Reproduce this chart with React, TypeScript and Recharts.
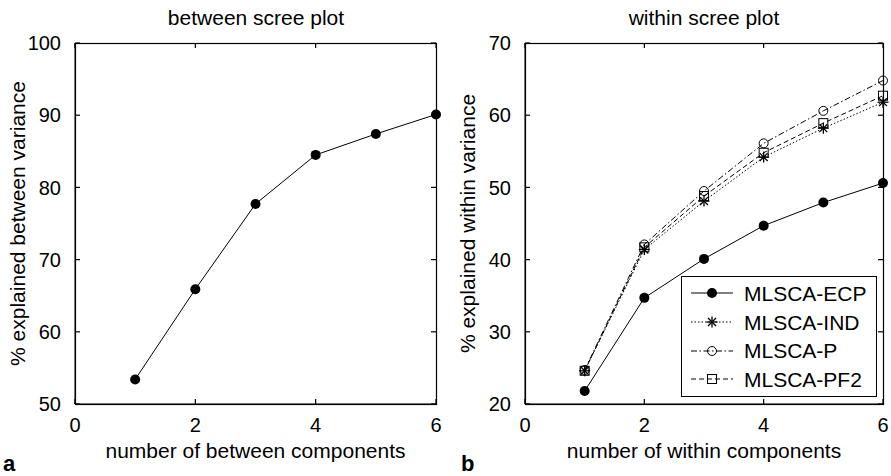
import { LineChart, Line, XAxis, YAxis } from "recharts"

// component numbers
const components = [1, 2, 3, 4, 5, 6]

// panel a: between scree
const betweenVar = [53.4, 65.9, 77.7, 84.5, 87.4, 90.1]

// panel b: within scree, one list per model
const ecp = [21.8, 34.7, 40.1, 44.7, 47.9, 50.6]
const ind = [24.6, 41.4, 48.1, 54.2, 58.2, 61.8]
const pModel = [24.7, 42.1, 49.5, 56.1, 60.6, 64.8]
const pf2 = [24.6, 41.7, 48.8, 54.8, 58.9, 62.7]

const xTicks = [0, 2, 4, 6]
const betweenTicks = [50, 60, 70, 80, 90, 100]
const withinTicks = [20, 30, 40, 50, 60, 70]

const betweenData = components.map((c, i) => ({ x: c, v: betweenVar[i] }))
const withinData = components.map((c, i) => ({
  x: c,
  ecp: ecp[i],
  ind: ind[i],
  p: pModel[i],
  pf2: pf2[i],
}))

const FONT = "'Liberation Sans', Arial, Helvetica, sans-serif"
const labelStyle = { fill: "#000", fontSize: 21, fontFamily: FONT }

const PLOT_TOP = 43
const PLOT_H = 361
const TICK_PX = 5
const TICK_GAP = 14

type Marker = "dot" | "star" | "circle" | "square"

const drawMarker = (kind: Marker, cx: number, cy: number, key?: string) => {
  if (kind === "dot") return <circle key={key} cx={cx} cy={cy} r={5} fill="#000" />
  if (kind === "circle")
    return <circle key={key} cx={cx} cy={cy} r={4.5} fill="none" stroke="#000" strokeWidth={1} />
  if (kind === "square")
    return (
      <rect key={key} x={cx - 4.5} y={cy - 4.5} width={9} height={9} fill="none" stroke="#000" strokeWidth={1} />
    )
  const s = 5.5
  const d = s * 0.72
  return (
    <g key={key} stroke="#000" strokeWidth={1.3}>
      <line x1={cx - s} y1={cy} x2={cx + s} y2={cy} />
      <line x1={cx} y1={cy - s} x2={cx} y2={cy + s} />
      <line x1={cx - d} y1={cy - d} x2={cx + d} y2={cy + d} />
      <line x1={cx - d} y1={cy + d} x2={cx + d} y2={cy - d} />
    </g>
  )
}

const markerDot = (kind: Marker) => (props: any) =>
  drawMarker(kind, props.cx, props.cy, `${kind}-${props.index}`)

const series = [
  { key: "ecp", name: "MLSCA-ECP", marker: "dot" as Marker, dash: undefined },
  { key: "ind", name: "MLSCA-IND", marker: "star" as Marker, dash: "1.5 2" },
  { key: "p", name: "MLSCA-P", marker: "circle" as Marker, dash: "6 2.5 1.5 2.5" },
  { key: "pf2", name: "MLSCA-PF2", marker: "square" as Marker, dash: "5 3" },
]

// x tick: label plus inward marks on bottom and top of the box
const xTick = (props: any) => {
  const { x, y, payload } = props
  const axisY = y - TICK_GAP
  const topY = axisY - PLOT_H
  return (
    <g>
      <line x1={x} y1={axisY} x2={x} y2={axisY - TICK_PX} stroke="#000" strokeWidth={1.2} />
      <line x1={x} y1={topY} x2={x} y2={topY + TICK_PX} stroke="#000" strokeWidth={1.2} />
      <text x={x} y={y} dy="0.71em" textAnchor="middle" fill="#000" fontSize={20} fontFamily={FONT}>
        {payload.value}
      </text>
    </g>
  )
}

// y tick: label plus inward marks on left and right of the box
const yTick = (plotW: number) => (props: any) => {
  const { x, y, payload } = props
  const axisX = x + TICK_GAP
  const rightX = axisX + plotW
  return (
    <g>
      <line x1={axisX} y1={y} x2={axisX + TICK_PX} y2={y} stroke="#000" strokeWidth={1.2} />
      <line x1={rightX} y1={y} x2={rightX - TICK_PX} y2={y} stroke="#000" strokeWidth={1.2} />
      <text x={x} y={y} dy="0.355em" textAnchor="end" fill="#000" fontSize={20} fontFamily={FONT}>
        {payload.value}
      </text>
    </g>
  )
}

const LegendBox = () => (
  <div
    style={{
      position: "absolute",
      left: 681,
      top: 276,
      border: "1px solid #000",
      background: "#fff",
      width: 196,
      height: 121,
      paddingTop: 2,
      boxSizing: "border-box",
    }}
  >
    {series.map((s) => (
      <div key={s.key} style={{ display: "flex", alignItems: "center", height: 28.7 }}>
        <svg width={58} height={20} style={{ marginLeft: 4 }}>
          <line x1={5} y1={10} x2={47} y2={10} stroke="#000" strokeWidth={1} strokeDasharray={s.dash} />
          {drawMarker(s.marker, 26, 10)}
        </svg>
        <span style={{ fontFamily: FONT, fontSize: 21, color: "#000", lineHeight: 1 }}>{s.name}</span>
      </div>
    ))}
  </div>
)

type PanelProps = {
  yLabel: string
  xLabel: string
  yTicks: number[]
  children: React.ReactNode
  data: any[]
  width: number
  right: number
}

const Panel = ({ yLabel, xLabel, yTicks, children, data, width, right }: PanelProps) => {
  const plotW = width - 75 - right
  return (
    <LineChart width={width} height={476} data={data} margin={{ top: PLOT_TOP, right, bottom: 0, left: 0 }}>
      <XAxis
        dataKey="x"
        type="number"
        domain={[0, 6]}
        ticks={xTicks}
        height={72}
        stroke="#000"
        tickLine={false}
        tickSize={0}
        tickMargin={TICK_GAP}
        tick={xTick}
        label={{ value: xLabel, position: "insideBottom", offset: 18, style: labelStyle }}
      />
      <YAxis
        type="number"
        domain={[yTicks[0], yTicks[yTicks.length - 1]]}
        ticks={yTicks}
        width={75}
        stroke="#000"
        tickLine={false}
        tickSize={0}
        tickMargin={TICK_GAP}
        tick={yTick(plotW)}
        label={{
          value: yLabel,
          angle: -90,
          position: "insideLeft",
          offset: 18,
          style: { ...labelStyle, textAnchor: "middle" },
        }}
      />
      {children}
    </LineChart>
  )
}

const titleStyle = (center: number): React.CSSProperties => ({
  position: "absolute",
  left: center - 150,
  width: 300,
  top: 7,
  textAlign: "center",
  fontFamily: FONT,
  fontSize: 21,
  lineHeight: "21px",
  color: "#000",
})

// plot boxes drawn as one overlay so all four sides are present
const FrameOverlay = () => (
  <svg
    width={891}
    height={476}
    style={{ position: "absolute", left: 0, top: 0, pointerEvents: "none" }}
  >
    <rect x={75.5} y={PLOT_TOP + 0.5} width={361} height={PLOT_H} fill="none" stroke="#000" strokeWidth={1.2} />
    <rect x={525.5} y={PLOT_TOP + 0.5} width={358} height={PLOT_H} fill="none" stroke="#000" strokeWidth={1.2} />
  </svg>
)

export default function App() {
  return (
    <div style={{ position: "absolute", left: 0, top: 0, width: 891, height: 476, background: "#fff" }}>
      <div style={{ position: "absolute", left: 0, top: 0 }}>
        <Panel
          yLabel="% explained between variance"
          xLabel="number of between components"
          yTicks={betweenTicks}
          data={betweenData}
          width={450}
          right={14}
        >
          <Line
            dataKey="v"
            stroke="#000"
            strokeWidth={1}
            dot={markerDot("dot")}
            isAnimationActive={false}
          />
        </Panel>
      </div>
      <div style={{ position: "absolute", left: 450, top: 0 }}>
        <Panel
          yLabel="% explained within variance"
          xLabel="number of within components"
          yTicks={withinTicks}
          data={withinData}
          width={441}
          right={8}
        >
          {series.map((s) => (
            <Line
              key={s.key}
              dataKey={s.key}
              name={s.name}
              stroke="#000"
              strokeWidth={1}
              strokeDasharray={s.dash}
              dot={markerDot(s.marker)}
              isAnimationActive={false}
            />
          ))}
        </Panel>
      </div>
      <FrameOverlay />
      <div style={titleStyle(256)}>between scree plot</div>
      <div style={titleStyle(704)}>within scree plot</div>
      <LegendBox />
      <div
        style={{ position: "absolute", left: 3, top: 451, fontFamily: FONT, fontSize: 22, fontWeight: "bold" }}
      >
        a
      </div>
      <div
        style={{ position: "absolute", left: 461, top: 451, fontFamily: FONT, fontSize: 22, fontWeight: "bold" }}
      >
        b
      </div>
    </div>
  )
}
